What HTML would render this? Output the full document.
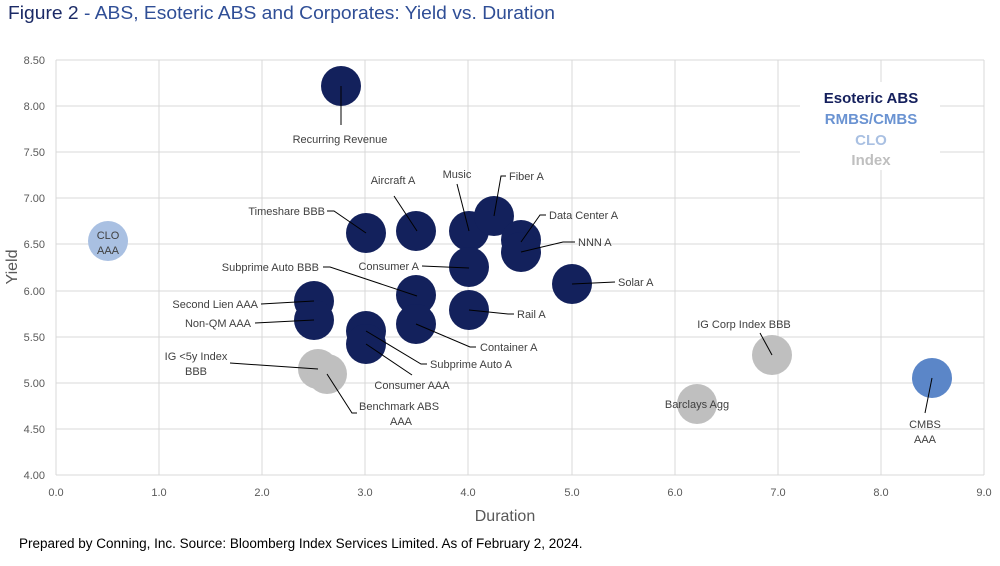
<!DOCTYPE html>
<html><head><meta charset="utf-8"><style>
body{margin:0;background:#fff;width:1000px;height:561px;overflow:hidden;font-family:"Liberation Sans",sans-serif}
</style></head><body>
<svg width="1000" height="561" xmlns="http://www.w3.org/2000/svg" font-family="Liberation Sans, sans-serif">
<text x="8" y="19" font-size="18.5" fill="#1b2a66" textLength="547" lengthAdjust="spacingAndGlyphs">Figure 2 <tspan fill="#2f4e96">- ABS, Esoteric ABS and Corporates: Yield vs. Duration</tspan></text>
<g stroke="#d9d9d9" stroke-width="1">
<line x1="56" y1="60" x2="984" y2="60"/><line x1="56" y1="106" x2="984" y2="106"/><line x1="56" y1="152" x2="984" y2="152"/><line x1="56" y1="198" x2="984" y2="198"/><line x1="56" y1="244" x2="984" y2="244"/><line x1="56" y1="291" x2="984" y2="291"/><line x1="56" y1="337" x2="984" y2="337"/><line x1="56" y1="383" x2="984" y2="383"/><line x1="56" y1="429" x2="984" y2="429"/><line x1="56" y1="475" x2="984" y2="475"/>
<line x1="56" y1="60" x2="56" y2="475"/><line x1="159" y1="60" x2="159" y2="475"/><line x1="262" y1="60" x2="262" y2="475"/><line x1="365" y1="60" x2="365" y2="475"/><line x1="468" y1="60" x2="468" y2="475"/><line x1="572" y1="60" x2="572" y2="475"/><line x1="675" y1="60" x2="675" y2="475"/><line x1="778" y1="60" x2="778" y2="475"/><line x1="881" y1="60" x2="881" y2="475"/><line x1="984" y1="60" x2="984" y2="475"/>
</g>
<g font-size="11" fill="#595959" text-anchor="end">
<text x="45" y="64">8.50</text><text x="45" y="110">8.00</text><text x="45" y="156">7.50</text><text x="45" y="202">7.00</text><text x="45" y="248">6.50</text><text x="45" y="295">6.00</text><text x="45" y="341">5.50</text><text x="45" y="387">5.00</text><text x="45" y="433">4.50</text><text x="45" y="479">4.00</text>
</g>
<g font-size="11" fill="#595959" text-anchor="middle">
<text x="56" y="496">0.0</text><text x="159" y="496">1.0</text><text x="262" y="496">2.0</text><text x="365" y="496">3.0</text><text x="468" y="496">4.0</text><text x="572" y="496">5.0</text><text x="675" y="496">6.0</text><text x="778" y="496">7.0</text><text x="881" y="496">8.0</text><text x="984" y="496">9.0</text>
</g>
<text x="505" y="521" font-size="16" fill="#595959" text-anchor="middle">Duration</text>
<text transform="translate(17,267) rotate(-90)" font-size="16" fill="#595959" text-anchor="middle">Yield</text>
<rect x="800" y="82" width="140" height="88" fill="#fff"/>
<g font-size="15" font-weight="bold" text-anchor="middle">
<text x="871" y="103" fill="#141f5c">Esoteric ABS</text>
<text x="871" y="124" fill="#6a93d2">RMBS/CMBS</text>
<text x="871" y="145" fill="#a9c0e2">CLO</text>
<text x="871" y="165" fill="#bfbfbf">Index</text>
</g>
<g fill="#bfbfbf">
<circle cx="318" cy="369" r="20"/><circle cx="327" cy="374" r="20"/><circle cx="772" cy="355" r="20"/><circle cx="697" cy="404" r="20"/>
</g>
<circle cx="108" cy="241" r="20" fill="#a9c0e2"/>
<circle cx="932" cy="378" r="20" fill="#5b86c8"/>
<g fill="#13215c">
<circle cx="341" cy="86" r="20"/><circle cx="366" cy="233" r="20"/><circle cx="416" cy="231" r="20"/><circle cx="469" cy="231" r="20"/><circle cx="494" cy="216" r="20"/><circle cx="521" cy="240" r="20"/><circle cx="521" cy="252" r="20"/><circle cx="469" cy="267" r="20"/><circle cx="572" cy="284" r="20"/><circle cx="416" cy="295" r="20"/><circle cx="314" cy="301" r="20"/><circle cx="314" cy="320" r="20"/><circle cx="469" cy="310" r="20"/><circle cx="416" cy="324" r="20"/><circle cx="366" cy="331" r="20"/><circle cx="366" cy="344" r="20"/>
</g>
<g stroke="#000" stroke-width="1" fill="none">
<line x1="341" y1="86" x2="341" y2="125"/>
<polyline points="327,211 334,211 366,233"/>
<line x1="394" y1="196" x2="417" y2="231"/>
<line x1="457" y1="184" x2="469" y2="231"/>
<polyline points="506,176 501,176 494,216"/>
<polyline points="546,215 540,215 521,242"/>
<polyline points="575,242 563,242 521,252"/>
<line x1="422" y1="266" x2="469" y2="268"/>
<line x1="572" y1="284" x2="615" y2="282"/>
<polyline points="323,267 330,267 417,296"/>
<line x1="261" y1="304" x2="314" y2="301"/>
<line x1="255" y1="323" x2="314" y2="320"/>
<polyline points="469,310 508,314 514,314"/>
<polyline points="416,324 470,347 476,347"/>
<polyline points="366,331 421,364 427,364"/>
<line x1="366" y1="344" x2="412" y2="375"/>
<line x1="230" y1="363" x2="318" y2="369"/>
<polyline points="327,374 352,413 357,413"/>
<line x1="760" y1="333" x2="772" y2="355"/>
<line x1="932" y1="378" x2="925" y2="413"/>
</g>
<g font-size="11" fill="#404040">
<text x="340" y="143" text-anchor="middle">Recurring Revenue</text>
<text x="325" y="215" text-anchor="end">Timeshare BBB</text>
<text x="393" y="184" text-anchor="middle">Aircraft A</text>
<text x="457" y="178" text-anchor="middle">Music</text>
<text x="509" y="180">Fiber A</text>
<text x="549" y="219">Data Center A</text>
<text x="578" y="246">NNN A</text>
<text x="419" y="270" text-anchor="end">Consumer A</text>
<text x="618" y="286">Solar A</text>
<text x="319" y="271" text-anchor="end">Subprime Auto BBB</text>
<text x="258" y="308" text-anchor="end">Second Lien AAA</text>
<text x="251" y="327" text-anchor="end">Non-QM AAA</text>
<text x="517" y="318">Rail A</text>
<text x="480" y="351">Container A</text>
<text x="430" y="368">Subprime Auto A</text>
<text x="412" y="389" text-anchor="middle">Consumer AAA</text>
<text x="196" y="360" text-anchor="middle">IG &lt;5y Index</text>
<text x="196" y="375" text-anchor="middle">BBB</text>
<text x="359" y="410">Benchmark ABS</text>
<text x="401" y="425" text-anchor="middle">AAA</text>
<text x="108" y="239" text-anchor="middle">CLO</text>
<text x="108" y="254" text-anchor="middle">AAA</text>
<text x="744" y="328" text-anchor="middle">IG Corp Index BBB</text>
<text x="697" y="408" text-anchor="middle">Barclays Agg</text>
<text x="925" y="428" text-anchor="middle">CMBS</text>
<text x="925" y="443" text-anchor="middle">AAA</text>
</g>
<text x="19" y="548" font-size="13.5" fill="#000">Prepared by Conning, Inc. Source: Bloomberg Index Services Limited. As of February 2, 2024.</text>
</svg>
</body></html>
